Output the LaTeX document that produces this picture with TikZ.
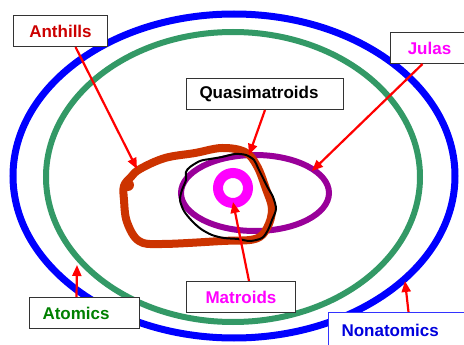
\documentclass[tikz,border=0pt]{standalone}
\usepackage{fontspec}
\setmainfont{Liberation Sans}
\usetikzlibrary{arrows.meta}
\definecolor{setblue}{HTML}{0000FF}
\definecolor{setgreen}{HTML}{339966}
\definecolor{setpurple}{HTML}{990099}
\definecolor{setmagenta}{HTML}{FF00FF}
\definecolor{setorange}{HTML}{CC3300}
\definecolor{setred}{HTML}{FF0000}
\definecolor{antred}{HTML}{CC0000}
\definecolor{atomgreen}{HTML}{008000}
\definecolor{nonblue}{HTML}{0000DD}
\definecolor{boxgrey}{HTML}{333333}
\tikzset{
  lbl/.style={draw=boxgrey,fill=white,line width=1pt,anchor=north west,
              minimum height=31pt,inner xsep=13pt,inner ysep=0pt,
              font=\bfseries\fontsize{17}{20}\selectfont},
  ring/.style={line width=#1},
  ar/.style={-{Triangle[length=11pt,width=9pt]},line width=2.2pt,setred},
}
\begin{document}
\begin{tikzpicture}[x=1pt,y=-1pt]
  \useasboundingbox (0,0) rectangle (464,345);
  \draw[ring=7pt,setblue] (234,176) ellipse [x radius=221pt,y radius=162pt];
  \draw[ring=6pt,setgreen] (233,177) ellipse [x radius=187pt,y radius=145pt];
  \draw[ring=6pt,setpurple] (255,193) ellipse [x radius=74pt,y radius=38pt];
  \draw[ring=8pt,setorange,line join=round] plot[smooth cycle,tension=0.6] coordinates {
    (140,169) (165,158) (195,153) (222,148) (245,152) (257,166) (266,189)
    (272,209) (267,228) (255,239) (222,241) (162,244) (139,241) (127,222)
    (124,200) (124,186) (131,177)};
  \fill[setorange] (128,185) circle (6pt);
  \draw[line width=2pt,black] plot[smooth cycle,tension=0.5] coordinates {
    (190,167) (200,161) (210,159) (222,157) (235,154) (246,155) (254,160)
    (258,168) (263,178) (268,188) (273,197) (276,209) (272,220) (268,230)
    (262,238) (250,241) (238,239) (224,238) (212,235) (201,229) (192,221)
    (184,211) (180,200) (182,190) (186,180) (186,172)};
  \draw[ring=10pt,setmagenta] (233,188) circle (15pt);
  \coordinate (anthillsTip) at (137,169);
  \coordinate (quasiTip) at (249,155);
  \coordinate (julasTip) at (312,171);
  \coordinate (matroidsTip) at (233,202);
  \coordinate (atomicsTip) at (77,265);
  \coordinate (nonatomicsTip) at (405,281);
  \node[lbl,text=antred,minimum width=94pt] (anthills) at (13,15) {Anthills};
  \node[lbl,text width=131pt,align=left] (quasi) at (186,78) {Quasimatroids};
  \node[lbl,text=setmagenta,minimum width=78pt] (julas) at (390,32) {Julas};
  \node[lbl,text=setmagenta,minimum width=109pt] (matroids) at (186,281) {Matroids};
  \node[lbl,text=atomgreen,text width=84pt,align=left] (atomics) at (29,297) {Atomics};
  \node[lbl,draw=setblue!80,text=nonblue,text width=120pt,align=left,
        minimum height=36pt] (nonatomics) at (328,312) {Nonatomics};
  \draw[ar] ([xshift=15pt]anthills.south) -- (anthillsTip);
  \draw[ar] (quasi.south) -- (quasiTip);
  \draw[ar] ([xshift=-7pt]julas.south) -- (julasTip);
  \draw[ar] ([xshift=8pt]matroids.north) -- (matroidsTip);
  \draw[ar] ([xshift=-8pt]atomics.north) -- (atomicsTip);
  \draw[ar] ([xshift=7pt]nonatomics.north) -- (nonatomicsTip);
\end{tikzpicture}
\end{document}
